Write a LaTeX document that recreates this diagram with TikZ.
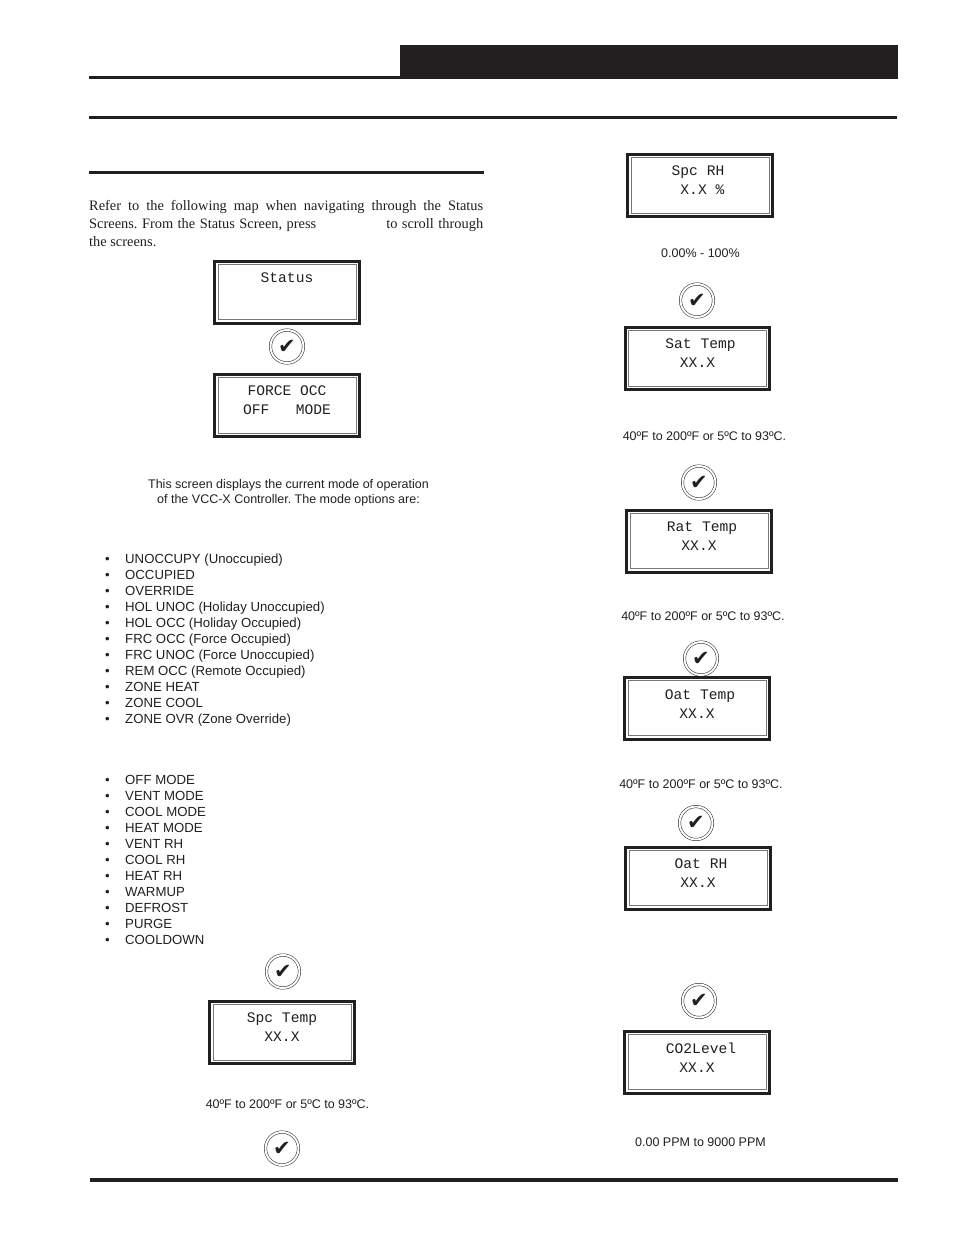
\documentclass[tikz,border=0pt]{standalone}
\usepackage{fontspec}
\setmainfont{Liberation Sans}
\newfontfamily\bodyserif{Liberation Serif}
\newfontfamily\lcdmono{Liberation Mono}
\newfontfamily\symfont{DejaVu Sans}
\usepackage{xcolor}
\definecolor{ink}{RGB}{35, 31, 32}
\definecolor{lcdline}{RGB}{120, 120, 120}
\usepackage{tikz}
\usetikzlibrary{shapes.misc,positioning,calc}

\begin{document}
\frenchspacing
\begin{tikzpicture}[
  x=1pt, y=-1pt,
  screen/.style={chamfered rectangle, chamfered rectangle corners=north west, chamfered rectangle xsep=3pt, chamfered rectangle ysep=3pt,
    draw=ink, line width=3pt, minimum width=144.5pt, minimum height=62pt, inner sep=0pt, outer sep=0pt,
    path picture={\draw[lcdline, line width=0.8pt] ($(path picture bounding box.south west)+(3.2pt,3.2pt)$) rectangle ($(path picture bounding box.north east)+(-3.2pt,-3.2pt)$);}},
  readout/.style={align=center, inner sep=0pt, text=ink, font=\fontsize{14.6}{19}\lcdmono},
  okbtn/.style={circle, draw=ink, double=white, double distance=2pt, line width=0.5pt, minimum size=33pt, inner sep=0pt, outer sep=0pt, text=ink, font=\fontsize{21}{21}\symfont},
  caption/.style={inner sep=0pt, outer sep=0pt, text=ink, text height=9pt, text depth=3pt, font=\fontsize{12.5}{16}\selectfont},
  rulebar/.style={fill=ink, draw=none}
]
\useasboundingbox (0,0) rectangle (954,1235);
\fill[white] (0,0) rectangle (954,1235);

\fill[rulebar] (400,45) rectangle (898,79);
\fill[rulebar] (89,76) rectangle (400,79);
\fill[rulebar] (89,116) rectangle (897,119);
\fill[rulebar] (89,171) rectangle (484,174);
\fill[rulebar] (90,1178) rectangle (898,1181.5);

\node[anchor=north west, inner sep=0pt, text width=394pt, align=justify, text=ink, font=\fontsize{14.4}{18}\bodyserif] (intro) at (89,200) {
  Refer to the following map when navigating through the Status\linebreak Screens. From the Status Screen, press\hspace{70pt}to scroll through\linebreak the screens.
};

% left column
\node[screen] (status) at (287,292) {};
\node[readout, anchor=north] (statustxt) at ([yshift=-12pt]status.north) {Status};
\node[okbtn, below=7pt of status] (okA) {\symbol{"2714}};
\node[screen, below=11.5pt of okA] (force) {};
\node[readout, anchor=north] (forcetxt) at ([yshift=-11.5pt]force.north) {FORCE OCC\\OFF\ \ \ MODE};

\node[align=center, inner sep=0pt, text=ink, font=\fontsize{12.5}{15}\selectfont] (modenote) at (288.5,493) {
  This screen displays the current mode of operation\\
  of the VCC-X Controller. The mode options are:
};

\node[anchor=north west, align=left, inner sep=0pt, text=ink, font=\fontsize{13.2}{16}\selectfont] (occlist) at (105,554) {
  \makebox[20pt][l]{•}UNOCCUPY (Unoccupied)\\
  \makebox[20pt][l]{•}OCCUPIED\\
  \makebox[20pt][l]{•}OVERRIDE\\
  \makebox[20pt][l]{•}HOL UNOC (Holiday Unoccupied)\\
  \makebox[20pt][l]{•}HOL OCC (Holiday Occupied)\\
  \makebox[20pt][l]{•}FRC OCC (Force Occupied)\\
  \makebox[20pt][l]{•}FRC UNOC (Force Unoccupied)\\
  \makebox[20pt][l]{•}REM OCC (Remote Occupied)\\
  \makebox[20pt][l]{•}ZONE HEAT\\
  \makebox[20pt][l]{•}ZONE COOL\\
  \makebox[20pt][l]{•}ZONE OVR (Zone Override)
};

\node[anchor=north west, align=left, inner sep=0pt, text=ink, font=\fontsize{13.2}{16}\selectfont] (hvaclist) at (105,775) {
  \makebox[20pt][l]{•}OFF MODE\\
  \makebox[20pt][l]{•}VENT MODE\\
  \makebox[20pt][l]{•}COOL MODE\\
  \makebox[20pt][l]{•}HEAT MODE\\
  \makebox[20pt][l]{•}VENT RH\\
  \makebox[20pt][l]{•}COOL RH\\
  \makebox[20pt][l]{•}HEAT RH\\
  \makebox[20pt][l]{•}WARMUP\\
  \makebox[20pt][l]{•}DEFROST\\
  \makebox[20pt][l]{•}PURGE\\
  \makebox[20pt][l]{•}COOLDOWN
};

\node[okbtn] (okB) at (283,971.5) {\symbol{"2714}};
\node[screen, below=13.5pt of okB, xshift=-1pt] (spctemp) {};
\node[readout, anchor=north] (spctemptxt) at ([yshift=-11.5pt]spctemp.north) {Spc Temp\\XX.X};
\node[caption, below=36pt of spctemp, xshift=5.5pt] (spctempcap) {40ºF to 200ºF or 5ºC to 93ºC.};
\node[okbtn, below=20.5pt of spctempcap, xshift=-5.5pt] (okC) {\symbol{"2714}};

% right column
\node[screen] (spcrh) at (700,185.5) {};
\node[readout, anchor=north, xshift=-2pt] (spcrhtxt) at ([yshift=-11pt]spcrh.north) {Spc RH\\\ X.X \%};
\node[caption, below=32pt of spcrh, xshift=0.5pt] (spcrhcap) {0.00\% - 100\%};
\node[okbtn, below=23.5pt of spcrhcap, xshift=-3.5pt] (okD) {\symbol{"2714}};
\node[screen, below=10.5pt of okD, xshift=0.5pt] (sattemp) {};
\node[readout, anchor=north] (sattemptxt) at ([yshift=-11.5pt]sattemp.north) {\hspace*{6pt}Sat Temp\\XX.X};
\node[caption, below=42pt of sattemp, xshift=7pt] (sattempcap) {40ºF to 200ºF or 5ºC to 93ºC.};
\node[okbtn, below=22.5pt of sattempcap, xshift=-5.5pt] (okE) {\symbol{"2714}};
\node[screen, below=11pt of okE] (rattemp) {};
\node[readout, anchor=north] (rattemptxt) at ([yshift=-11.5pt]rattemp.north) {\hspace*{6pt}Rat Temp\\XX.X};
\node[caption, below=39.5pt of rattemp, xshift=4pt] (rattempcap) {40ºF to 200ºF or 5ºC to 93ºC.};
\node[okbtn, below=18.5pt of rattempcap, xshift=-2pt] (okF) {\symbol{"2714}};
\node[screen, below=2pt of okF, xshift=-4pt] (oattemp) {};
\node[readout, anchor=north] (oattemptxt) at ([yshift=-12.5pt]oattemp.north) {\hspace*{6pt}Oat Temp\\XX.X};
\node[caption, below=40.5pt of oattemp, xshift=4pt] (oattempcap) {40ºF to 200ºF or 5ºC to 93ºC.};
\node[okbtn, below=15pt of oattempcap, xshift=-5pt] (okG) {\symbol{"2714}};
\node[screen, below=7.5pt of okG, xshift=2pt] (oatrh) {};
\node[readout, anchor=north] (oatrhtxt) at ([yshift=-11.5pt]oatrh.north) {\hspace*{6pt}Oat RH\\XX.X};
\node[okbtn, below=75.5pt of oatrh, xshift=1pt] (okH) {\symbol{"2714}};
\node[screen, below=13.5pt of okH, xshift=-2pt] (coolevel) {};
\node[readout, anchor=north] (cooleveltxt) at ([yshift=-11.5pt]coolevel.north) {\hspace*{8pt}CO2Level\\XX.X};
\node[caption, below=44.5pt of coolevel, xshift=3.5pt] (coolevelcap) {0.00 PPM to 9000 PPM};
\end{tikzpicture}
\end{document}
